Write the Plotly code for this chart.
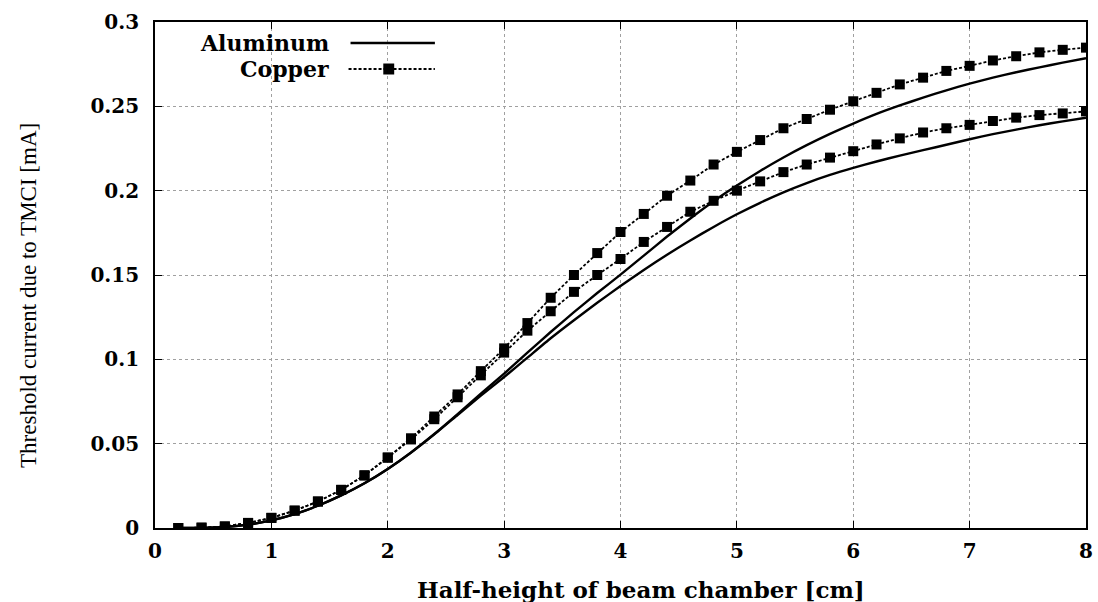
import plotly.graph_objects as go

# Half-height of the beam chamber [cm]
half_height_cm = [0.2, 0.4, 0.6, 0.8, 1.0, 1.2, 1.4, 1.6, 1.8, 2.0,
                  2.2, 2.4, 2.6, 2.8, 3.0, 3.2, 3.4, 3.6, 3.8, 4.0,
                  4.2, 4.4, 4.6, 4.8, 5.0, 5.2, 5.4, 5.6, 5.8, 6.0,
                  6.2, 6.4, 6.6, 6.8, 7.0, 7.2, 7.4, 7.6, 7.8, 8.0]

# Threshold current due to TMCI [mA], aluminum chamber (two cases)
aluminum_upper = [0.0000, 0.0001, 0.0006, 0.0020, 0.0045, 0.0082, 0.0132, 0.0193, 0.0265, 0.0350,
                  0.0448, 0.0557, 0.0675, 0.0797, 0.0915, 0.1040, 0.1162, 0.1280, 0.1393, 0.1502,
                  0.1615, 0.1728, 0.1835, 0.1937, 0.2030, 0.2117, 0.2197, 0.2270, 0.2337, 0.2398,
                  0.2455, 0.2505, 0.2552, 0.2595, 0.2635, 0.2670, 0.2702, 0.2731, 0.2759, 0.2785]
aluminum_lower = [0.0000, 0.0001, 0.0006, 0.0020, 0.0045, 0.0082, 0.0132, 0.0193, 0.0265, 0.0350,
                  0.0447, 0.0555, 0.0670, 0.0785, 0.0895, 0.1010, 0.1125, 0.1232, 0.1335, 0.1435,
                  0.1530, 0.1620, 0.1705, 0.1785, 0.1860, 0.1928, 0.1990, 0.2045, 0.2093, 0.2135,
                  0.2173, 0.2208, 0.2240, 0.2272, 0.2305, 0.2335, 0.2362, 0.2388, 0.2411, 0.2432]

# Threshold current due to TMCI [mA], copper chamber (two cases)
copper_upper = [0.0000, 0.0002, 0.0009, 0.0030, 0.0060, 0.0103, 0.0157, 0.0226, 0.0312, 0.0418,
                0.0532, 0.0661, 0.0792, 0.0930, 0.1065, 0.1215, 0.1365, 0.1500, 0.1630, 0.1755,
                0.1862, 0.1970, 0.2060, 0.2155, 0.2230, 0.2300, 0.2370, 0.2425, 0.2480, 0.2530,
                0.2580, 0.2630, 0.2670, 0.2710, 0.2740, 0.2772, 0.2797, 0.2820, 0.2835, 0.2848]
copper_lower = [0.0000, 0.0002, 0.0009, 0.0030, 0.0060, 0.0103, 0.0157, 0.0226, 0.0312, 0.0417,
                0.0525, 0.0645, 0.0775, 0.0905, 0.1040, 0.1170, 0.1285, 0.1400, 0.1500, 0.1595,
                0.1696, 0.1785, 0.1875, 0.1940, 0.2000, 0.2055, 0.2110, 0.2155, 0.2196, 0.2234,
                0.2274, 0.2310, 0.2345, 0.2370, 0.2390, 0.2413, 0.2433, 0.2448, 0.2458, 0.2470]

x_ticks = [0, 1, 2, 3, 4, 5, 6, 7, 8]
y_ticks = [0, 0.05, 0.1, 0.15, 0.2, 0.25, 0.3]
y_tick_text = ["0", "0.05", "0.1", "0.15", "0.2", "0.25", "0.3"]

SERIF = "DejaVu Serif"

fig = go.Figure()

for ys in (aluminum_upper, aluminum_lower):
    fig.add_trace(go.Scatter(
        x=half_height_cm, y=ys, mode="lines",
        line=dict(color="black", width=2.4, shape="spline", smoothing=0.5),
        showlegend=False, hoverinfo="skip"))

for ys in (copper_upper, copper_lower):
    fig.add_trace(go.Scatter(
        x=half_height_cm, y=ys, mode="lines+markers",
        line=dict(color="black", width=1.8, dash="3px,2px"),
        marker=dict(symbol="square", size=10, color="black"),
        showlegend=False, hoverinfo="skip"))

# Pixel -> paper helpers for the plot area (155..1093 wide, 22..528 tall)
def px_x(p):
    return (p - 155) / 938.0

def px_y(p):
    return (528 - p) / 506.0

# Key in the upper-left corner: label text on the left, sample on the right
key_font = dict(family=SERIF, size=22, color="black", weight="bold")
fig.add_annotation(x=px_x(332), y=px_y(43), xref="paper", yref="paper",
                   text="Aluminum", showarrow=False, xanchor="right", yanchor="middle",
                   font=key_font)
fig.add_annotation(x=px_x(332), y=px_y(69), xref="paper", yref="paper",
                   text="Copper", showarrow=False, xanchor="right", yanchor="middle",
                   font=key_font)
fig.add_shape(type="line", xref="paper", yref="paper",
              x0=px_x(352), x1=px_x(437), y0=px_y(43), y1=px_y(43),
              line=dict(color="black", width=2.4))
fig.add_shape(type="line", xref="paper", yref="paper",
              x0=px_x(350), x1=px_x(437), y0=px_y(69), y1=px_y(69),
              line=dict(color="black", width=1.8, dash="3px,2px"))
fig.add_shape(type="rect", xref="paper", yref="paper",
              x0=px_x(385), x1=px_x(396), y0=px_y(74.5), y1=px_y(63.5),
              line=dict(width=0), fillcolor="black")

# Axis titles
fig.add_annotation(x=px_x(645), y=px_y(589), xref="paper", yref="paper",
                   text="Half-height of beam chamber [cm]", showarrow=False,
                   xanchor="center", yanchor="middle",
                   font=dict(family=SERIF, size=23, color="black", weight="bold"))
fig.add_annotation(x=px_x(27), y=px_y(295), xref="paper", yref="paper",
                   text="Threshold current due to TMCI [mA]", showarrow=False,
                   textangle=-90, xanchor="center", yanchor="middle",
                   font=dict(family="Liberation Serif", size=23, color="black"))

axis_common = dict(
    showline=True, linecolor="black", linewidth=1.8, mirror="ticks",
    ticks="inside", ticklen=7, tickwidth=1.3, tickcolor="black",
    showgrid=True, gridcolor="#a0a0a0", gridwidth=1, griddash="dot",
    zeroline=False,
    tickfont=dict(family=SERIF, size=20, color="black", weight="bold"),
)

fig.update_xaxes(range=[0, 8], tickvals=x_ticks,
                 ticktext=[str(v) for v in x_ticks], ticklabelstandoff=4,
                 **axis_common)
fig.update_yaxes(range=[0, 0.3], tickvals=y_ticks, ticktext=y_tick_text,
                 ticklabelstandoff=10, **axis_common)

fig.update_layout(
    width=1098, height=602,
    margin=dict(l=155, r=5, t=22, b=74),
    paper_bgcolor="white", plot_bgcolor="white",
    showlegend=False,
)

fig.write_html("out.html")
